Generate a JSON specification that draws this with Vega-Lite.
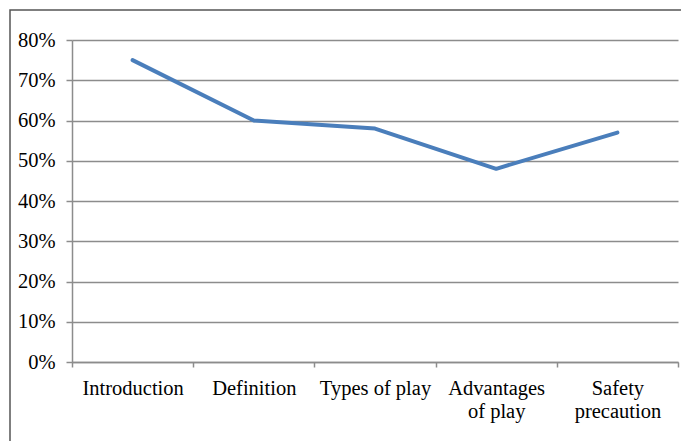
{
  "$schema": "https://vega.github.io/schema/vega-lite/v6.json",
  "autosize": "none",
  "padding": {"left": 10, "top": 10, "right": -3, "bottom": -3},
  "width": 674,
  "height": 434,
  "background": "white",
  "config": {
    "view": {"stroke": "#555555", "strokeWidth": 1.5},
    "font": "Liberation Serif",
    "axis": {"labelFont": "Liberation Serif"}
  },
  "data": {
    "values": [
      {"topic": "Introduction", "pct": 0.75},
      {"topic": "Definition", "pct": 0.60},
      {"topic": "Types of play", "pct": 0.58},
      {"topic": "Advantages of play", "pct": 0.48},
      {"topic": "Safety precaution", "pct": 0.57}
    ]
  },
  "mark": {"type": "line", "color": "#4a7ebb", "strokeWidth": 4, "strokeCap": "round", "strokeJoin": "round"},
  "encoding": {
    "x": {
      "field": "topic",
      "type": "nominal",
      "sort": null,
      "bandPosition": 0.5,
      "scale": {"type": "band", "paddingInner": 0, "paddingOuter": 0, "range": [62, 668]},
      "axis": {
        "title": null,
        "orient": "bottom",
        "offset": -82,
        "domainColor": "#8c8c8c",
        "domainWidth": 1.5,
        "tickColor": "#8c8c8c",
        "tickWidth": 1.5,
        "tickSize": 5,
        "tickBand": "extent",
        "labelAngle": 0,
        "labelFont": "Liberation Serif",
        "labelFontSize": 20.5,
        "labelColor": "#000000",
        "labelPadding": 11,
        "labelLineHeight": 23,
        "labelOverlap": false,
        "labelBound": false,
        "labelLimit": 0,
        "labelExpr": "datum.label == 'Advantages of play' ? ['Advantages', 'of play'] : datum.label == 'Safety precaution' ? ['Safety', 'precaution'] : datum.label",
        "grid": false
      }
    },
    "y": {
      "field": "pct",
      "type": "quantitative",
      "scale": {"domain": [0, 0.8], "range": [352, 30], "nice": false, "zero": true},
      "axis": {
        "title": null,
        "orient": "left",
        "offset": -62,
        "values": [0, 0.1, 0.2, 0.3, 0.4, 0.5, 0.6, 0.7, 0.8],
        "format": ".0%",
        "domainColor": "#8c8c8c",
        "domainWidth": 1.5,
        "tickColor": "#8c8c8c",
        "tickWidth": 1.5,
        "tickSize": 6,
        "grid": true,
        "gridColor": "#8c8c8c",
        "gridWidth": 1.5,
        "labelFont": "Liberation Serif",
        "labelFontSize": 20.5,
        "labelColor": "#000000",
        "labelPadding": 11,
        "labelBound": false
      }
    }
  }
}
